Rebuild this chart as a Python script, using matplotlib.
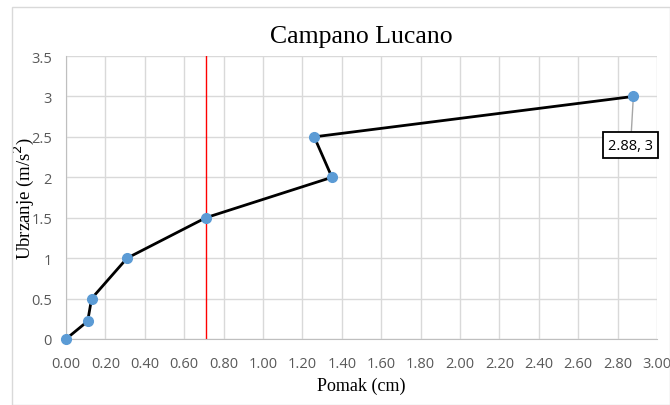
import numpy as np
import matplotlib.pyplot as plt

pomak = [0.00, 0.11, 0.13, 0.31, 0.71, 1.35, 1.26, 2.88]
ubrzanje = [0.0, 0.22, 0.5, 1.0, 1.5, 2.0, 2.5, 3.0]
red_x = 0.71
x_ticks = np.arange(0, 3.01, 0.2)
y_ticks = [0, 0.5, 1, 1.5, 2, 2.5, 3, 3.5]
y_tick_labels = ['0', '0.5', '1', '1.5', '2', '2.5', '3', '3.5']

fig = plt.figure(figsize=(6.7, 4.06), dpi=100)
ax = fig.add_axes([66/670, 1 - 340/406, (657-66)/670, (340-57)/406])

fig.patches.append(plt.Rectangle((12/670, 0), 1 - 12/670, 1 - 8/406, transform=fig.transFigure,
                                 fill=False, edgecolor='#d9d9d9', linewidth=1))

ax.set_xlim(0, 3)
ax.set_ylim(0, 3.5)
ax.set_xticks(x_ticks)
ax.set_xticklabels([f'{v:.2f}' for v in x_ticks])
ax.set_yticks(y_ticks)
ax.set_yticklabels(y_tick_labels)
ax.grid(True, color='#d9d9d9', linewidth=1)
ax.set_axisbelow(True)
for s in ['top', 'right']:
    ax.spines[s].set_visible(False)
for s in ['left', 'bottom']:
    ax.spines[s].set_color('#bfbfbf')
ax.tick_params(length=0, labelsize=10.5, labelcolor='#595959')
ax.tick_params(axis='x', pad=12)
ax.tick_params(axis='y', pad=10)
for lbl in ax.get_xticklabels() + ax.get_yticklabels():
    lbl.set_family('Open Sans')

ax.plot([red_x, red_x], [0, 3.5], color='red', linewidth=1, zorder=2)
ax.plot(pomak, ubrzanje, color='black', linewidth=2, zorder=3)
ax.plot(pomak, ubrzanje, 'o', color='#5b9bd5', markersize=7, zorder=4, clip_on=False)

ax.annotate(f'{pomak[-1]:.2f}, {ubrzanje[-1]:g}', xy=(pomak[-1], ubrzanje[-1]), xytext=(-2, -35),
            textcoords='offset points', fontsize=10.5, family='Open Sans', ha='center', va='center',
            bbox=dict(boxstyle='square,pad=0.35', fc='white', ec='black', lw=1.3),
            arrowprops=dict(arrowstyle='-', color='#a6a6a6', lw=1, shrinkA=0, shrinkB=0))

ax.set_title('Campano Lucano', fontsize=18.5, family='Liberation Serif', pad=10)
ax.set_xlabel('Pomak (cm)', fontsize=13, family='Liberation Serif', labelpad=4)
ax.set_ylabel('Ubrzanje (m/s$^2$)', fontsize=13.5, family='Liberation Serif')
ax.yaxis.set_label_coords(-(66 - 24) / 591, 0.5)
ax.yaxis.label.set_va('center')

fig.savefig('out.png', dpi=100)
